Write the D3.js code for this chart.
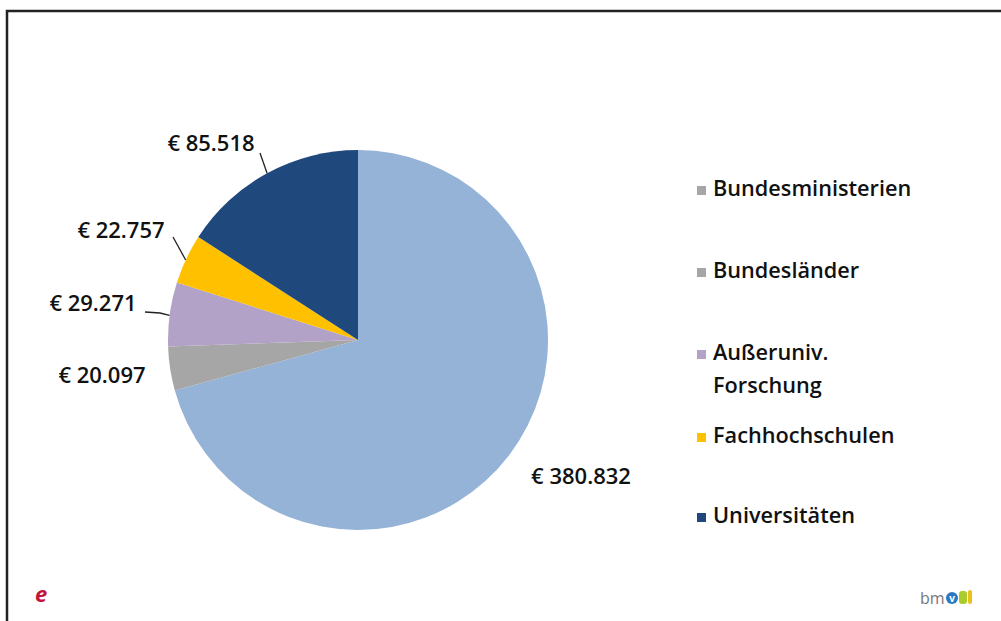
<!DOCTYPE html>
<html>
<head>
<style>
    body { margin: 0; background: #fff; }
    text { font-family: "Open Sans", Lato, sans-serif; }
</style>
<script src="https://d3js.org/d3.v7.min.js"></script>
</head>
<body>
<svg width="1001" height="621"></svg>
<script>
    // data
    var categories = ["Bundesministerien", "Bundesländer", "Außeruniv. Forschung", "Fachhochschulen", "Universitäten"];
    var values = [380.832, 20.097, 29.271, 22.757, 85.518];
    var valueLabels = ["€ 380.832", "€ 20.097", "€ 29.271", "€ 22.757", "€ 85.518"];
    var sliceColors = ["#95b3d7", "#a6a6a6", "#b3a2c7", "#ffc000", "#1f497d"];
    var legendColors = ["#a6a6a6", "#a6a6a6", "#b3a2c7", "#ffc000", "#1f497d"];

    var svg = d3.select("svg");

    // frame
    svg.append("path")
        .attr("d", "M7,621 L7,11 L1001,11")
        .attr("fill", "none")
        .attr("stroke", "#222")
        .attr("stroke-width", 2.5);

    var cx = 358, cy = 340, r = 190;

    var pie = d3.pie().sort(null).value(function (d) { return d; });
    var arcs = pie(values);
    var arc = d3.arc().innerRadius(0).outerRadius(r);

    var g = svg.append("g").attr("transform", "translate(" + cx + "," + cy + ")");

    g.selectAll("path.slice")
        .data(arcs)
        .enter()
        .append("path")
        .attr("class", "slice")
        .attr("d", arc)
        .attr("fill", function (d, i) { return sliceColors[i]; });

    // label positions relative to pie centre
    var labelXY = [[223, 138], [-256, 37], [-265, -35], [-237, -108], [-147, -195]];

    g.selectAll("text.val")
        .data(arcs)
        .enter()
        .append("text")
        .attr("class", "val")
        .attr("x", function (d, i) { return labelXY[i][0]; })
        .attr("y", function (d, i) { return labelXY[i][1]; })
        .attr("text-anchor", "middle")
        .attr("dominant-baseline", "middle")
        .attr("font-size", 22)
        .attr("font-weight", 600)
        .attr("fill", "#111")
        .text(function (d, i) { return valueLabels[i]; });

    // leader lines: start near label, end on the pie edge at a fraction of the slice
    var leaders = [
        { i: 2, frac: 0.48, pts: [[-213, -28], [-198, -27]] },
        { i: 3, frac: 0.48, pts: [[-185, -103]] },
        { i: 4, frac: 0.5, pts: [[-98, -187]] }
    ];
    leaders.forEach(function (l) {
        var d = arcs[l.i];
        var a = d.startAngle + (d.endAngle - d.startAngle) * l.frac;
        var x2 = Math.sin(a) * r, y2 = -Math.cos(a) * r;
        var pts = l.pts.concat([[x2, y2]]);
        g.append("path")
            .attr("d", d3.line()(pts))
            .attr("fill", "none")
            .attr("stroke", "#222")
            .attr("stroke-width", 1.3);
    });

    // legend
    var legendY = [190, 272, 354, 437, 517];
    var legend = svg.append("g");
    categories.forEach(function (c, i) {
        legend.append("rect")
            .attr("x", 697)
            .attr("y", legendY[i] - 4)
            .attr("width", 9)
            .attr("height", 9)
            .attr("fill", legendColors[i]);
        var words = i === 2 ? ["Außeruniv.", "Forschung"] : [c];
        words.forEach(function (w, j) {
            legend.append("text")
                .attr("x", 713)
                .attr("y", legendY[i] + j * 33)
                .attr("dominant-baseline", "middle")
                .attr("font-size", 21.7)
                .attr("font-weight", 600)
                .attr("fill", "#111")
                .text(w);
        });
    });

    // logos
    svg.append("text")
        .attr("x", 35)
        .attr("y", 602)
        .attr("font-size", 22)
        .attr("font-style", "italic")
        .attr("font-weight", "bold")
        .attr("font-family", "DejaVu Serif")
        .attr("fill", "#c0143c")
        .text("e");

    svg.append("text")
        .attr("x", 920)
        .attr("y", 604)
        .attr("font-size", 16)
        .attr("fill", "#777")
        .text("bm");
    svg.append("circle").attr("cx", 952).attr("cy", 598).attr("r", 6).attr("fill", "#2a78c2");
    svg.append("text").attr("x", 952).attr("y", 602).attr("text-anchor", "middle")
        .attr("font-size", 10).attr("fill", "#fff").attr("font-weight", "bold").text("v");
    svg.append("rect").attr("x", 959).attr("y", 591).attr("width", 8).attr("height", 13).attr("rx", 3).attr("fill", "#a8cc2c");
    svg.append("rect").attr("x", 968).attr("y", 590).attr("width", 4).attr("height", 14).attr("rx", 2).attr("fill", "#e8c21a");
</script>
</body>
</html>
